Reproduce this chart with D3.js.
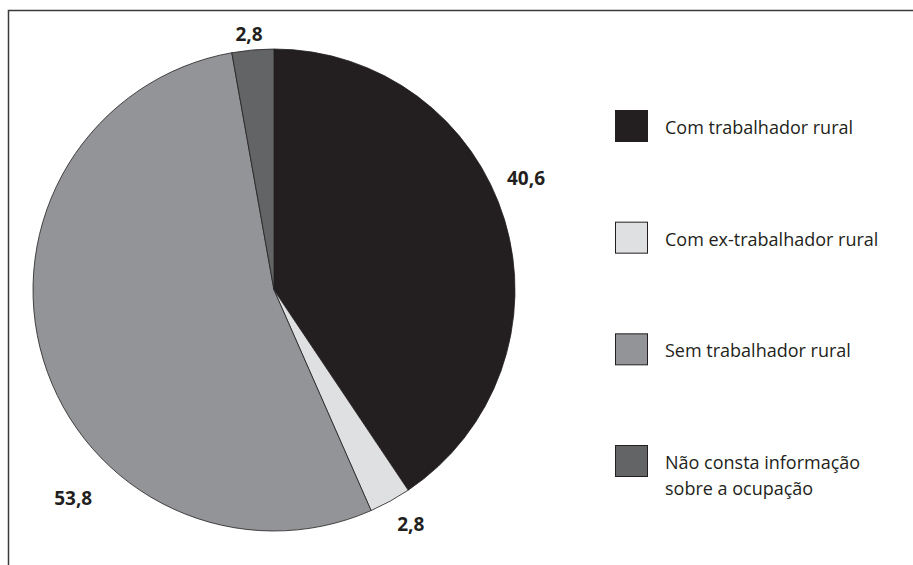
<!DOCTYPE html>
<html>
<head>
<meta charset="utf-8">
<script src="https://cdn.jsdelivr.net/npm/d3@7"></script>
<style>
  body { margin: 0; background: #fff; }
  svg { display: block; }
  text { font-family: "Open Sans", "Noto Sans", sans-serif; fill: #231f20; }
</style>
</head>
<body>
<svg id="chart" width="913" height="565"></svg>
<script>
// data
const categories = [
  "Com trabalhador rural",
  "Com ex-trabalhador rural",
  "Sem trabalhador rural",
  "Não consta informação sobre a ocupação"
];
const values = [40.6, 2.8, 53.8, 2.8];
const valueLabels = ["40,6", "2,8", "53,8", "2,8"];
const legendLines = [
  ["Com trabalhador rural"],
  ["Com ex-trabalhador rural"],
  ["Sem trabalhador rural"],
  ["Não consta informação", "sobre a ocupação"]
];

const colors = ["#231f20", "#dfe0e1", "#929497", "#636466"];

const svg = d3.select("#chart");

// frame (only top and left edges show in the crop)
svg.append("rect")
  .attr("x", 8.5).attr("y", 10.5)
  .attr("width", 950).attr("height", 600)
  .attr("fill", "none")
  .attr("stroke", "#3a3a3a")
  .attr("stroke-width", 1.5);

const cx = 274, cy = 290, radius = 241;

const pie = d3.pie().sort(null).value(d => d);
const arcs = pie(values);

const arc = d3.arc().innerRadius(0).outerRadius(radius);

const g = svg.append("g").attr("transform", `translate(${cx},${cy})`);

g.selectAll("path.slice")
  .data(arcs)
  .enter().append("path")
  .attr("class", "slice")
  .attr("d", arc)
  .attr("fill", (d, i) => colors[i])
  .attr("stroke", "#231f20")
  .attr("stroke-width", 0.8)
  .attr("stroke-linejoin", "round");

// label placement: nudge (degrees) and distance from centre, to the baseline
const labelNudge = [-5.7, -0.8, -30, -0.7];
const labelRadius = [273, 277, 294, 250];

g.selectAll("text.value")
  .data(arcs)
  .enter().append("text")
  .attr("class", "value")
  .attr("text-anchor", "middle")
  .attr("font-size", 19)
  .attr("font-weight", "bold")
  .attr("transform", (d, i) => {
    const a = (d.startAngle + d.endAngle) / 2 + labelNudge[i] * Math.PI / 180;
    const r = labelRadius[i];
    return `translate(${r * Math.sin(a)},${-r * Math.cos(a)})`;
  })
  .text((d, i) => valueLabels[i]);

// legend
const legendY = d3.scalePoint()
  .domain(categories)
  .range([126, 461]);

const legend = svg.append("g").attr("class", "legend");

const item = legend.selectAll("g.item")
  .data(categories)
  .enter().append("g")
  .attr("class", "item")
  .attr("transform", d => `translate(615,${legendY(d)})`);

item.append("rect")
  .attr("x", 0.5).attr("y", -15.5)
  .attr("width", 32).attr("height", 31)
  .attr("fill", (d, i) => colors[i])
  .attr("stroke", "#231f20")
  .attr("stroke-width", 1);

item.append("text")
  .attr("x", 50)
  .attr("y", 8)
  .attr("font-size", 18)
  .selectAll("tspan")
  .data((d, i) => legendLines[i])
  .enter().append("tspan")
  .attr("x", 50)
  .attr("dy", (d, j) => j === 0 ? 0 : 26)
  .text(d => d);
</script>
</body>
</html>
